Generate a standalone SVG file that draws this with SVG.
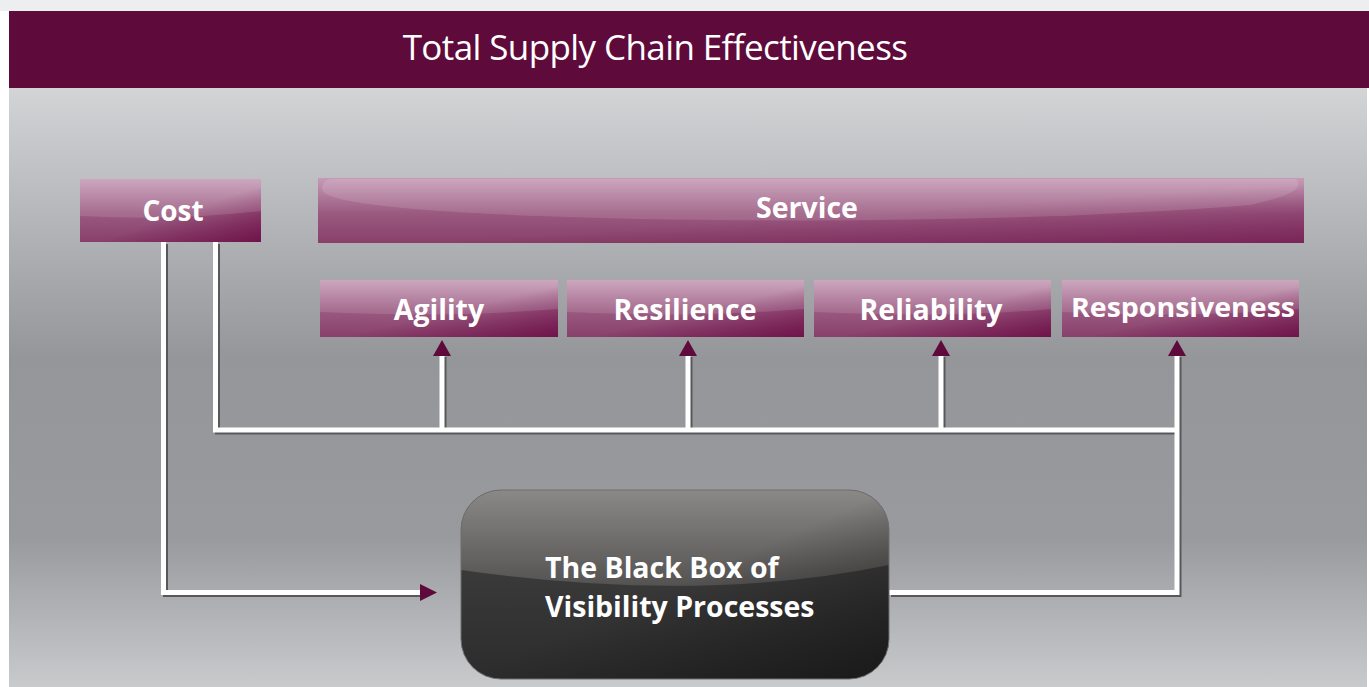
<svg xmlns="http://www.w3.org/2000/svg" width="1369" height="687" viewBox="0 0 1369 687">
<defs>
<linearGradient id="bg" x1="0" y1="0" x2="0" y2="1">
<stop offset="0" stop-color="#d3d4d6"/>
<stop offset="0.45" stop-color="#95969a"/>
<stop offset="0.75" stop-color="#999a9e"/>
<stop offset="1" stop-color="#c9cacc"/>
</linearGradient>
<linearGradient id="pk" x1="0" y1="0" x2="0" y2="1">
<stop offset="0" stop-color="#c69bb6"/>
<stop offset="0.55" stop-color="#9a5980"/>
<stop offset="1" stop-color="#88406a"/>
</linearGradient>
<linearGradient id="pkd" x1="0" y1="0" x2="1" y2="1">
<stop offset="0.55" stop-color="#6d0f48" stop-opacity="0"/>
<stop offset="1" stop-color="#6d0f48" stop-opacity="0.9"/>
</linearGradient>
<linearGradient id="bk" x1="0" y1="0" x2="0" y2="1">
<stop offset="0" stop-color="#444444"/>
<stop offset="1" stop-color="#2c2c2c"/>
</linearGradient>
<linearGradient id="bkt" x1="0" y1="0" x2="0" y2="1">
<stop offset="0" stop-color="#8b8987"/>
<stop offset="1" stop-color="#545352"/>
</linearGradient>
<linearGradient id="bkd" x1="0" y1="0" x2="1" y2="1">
<stop offset="0.5" stop-color="#151515" stop-opacity="0"/>
<stop offset="1" stop-color="#151515" stop-opacity="0.8"/>
</linearGradient>
<clipPath id="bkc"><rect x="461" y="490" width="428" height="189" rx="40"/></clipPath>
</defs>
<style>
.lbl{font-family:"Open Sans","Liberation Sans",sans-serif;font-weight:bold;fill:#fff;text-anchor:middle}
.lbs{font-family:"Open Sans","Liberation Sans",sans-serif;font-weight:bold;fill:#fff;text-anchor:start}
.ln{fill:none;stroke:#fff;stroke-width:5;stroke-linejoin:miter}
.sh{fill:none;stroke:#58585a;stroke-width:5;stroke-linejoin:miter}
.ah{fill:#5e0a3a}
.gl{fill:#fff;opacity:0.12}
</style>
<rect x="0" y="0" width="1369" height="687" fill="#ffffff"/>
<rect x="0" y="0" width="1369" height="11" fill="#eceef0"/>
<rect x="9" y="88" width="1358" height="599" fill="url(#bg)"/>
<g id="header">
<rect x="9" y="11" width="1360" height="77" fill="#5e0a3a"/>
<text x="655" y="60" font-family="Open Sans, Liberation Sans, sans-serif" font-size="35" fill="#fff" text-anchor="middle" letter-spacing="-0.6">Total Supply Chain Effectiveness</text>
</g>
<g id="connectors">
<g transform="translate(2,2)">
<path class="sh" d="M163.5 242 V592.5 H420"/>
<path class="sh" d="M215.5 242 V430 H1177"/>
<path class="sh" d="M442 430 V355 M688 430 V355 M941 430 V355"/>
<path class="sh" d="M889 592.5 H1177 V355"/>
</g>
<path class="ln" d="M163.5 242 V592.5 H420"/>
<path class="ln" d="M215.5 242 V430 H1177"/>
<path class="ln" d="M442 430 V355 M688 430 V355 M941 430 V355"/>
<path class="ln" d="M889 592.5 H1177 V355"/>
<polygon class="ah" points="442,340 433,356 451,356"/>
<polygon class="ah" points="688,340 679,356 697,356"/>
<polygon class="ah" points="941,340 932,356 950,356"/>
<polygon class="ah" points="1177,340 1168,356 1186,356"/>
<polygon class="ah" points="437,592.5 420,584 420,601"/>
</g>
<g id="cost">
<rect x="80" y="179" width="181" height="63" fill="url(#pk)"/>
<rect x="80" y="179" width="181" height="63" fill="url(#pkd)"/>
<path class="gl" d="M80 179 H261 V211 Q180 221 80 216 Z"/>
<text class="lbl" x="173" y="221" font-size="28">Cost</text>
</g>
<g id="service">
<rect x="318" y="178" width="986" height="65" fill="url(#pk)"/>
<rect x="318" y="178" width="986" height="65" fill="url(#pkd)" opacity="0.6"/>
<path class="gl" d="M330 179 H1296 Q1310 192 1250 205 Q1000 225 640 219 Q330 212 322 190 Q322 181 330 179 Z"/>
<text class="lbl" x="807" y="218" font-size="28.5">Service</text>
</g>
<g id="agility">
<rect x="320" y="280" width="238" height="57" fill="url(#pk)"/>
<rect x="320" y="280" width="238" height="57" fill="url(#pkd)"/>
<path class="gl" d="M320 280 H558 V309 Q450 318 320 312 Z"/>
<text class="lbl" x="439" y="320" font-size="28.5">Agility</text>
</g>
<g id="resilience">
<rect x="567" y="280" width="237" height="57" fill="url(#pk)"/>
<rect x="567" y="280" width="237" height="57" fill="url(#pkd)"/>
<path class="gl" d="M567 280 H804 V309 Q700 318 567 312 Z"/>
<text class="lbl" x="685" y="320" font-size="28.5">Resilience</text>
</g>
<g id="reliability">
<rect x="814" y="280" width="237" height="57" fill="url(#pk)"/>
<rect x="814" y="280" width="237" height="57" fill="url(#pkd)"/>
<path class="gl" d="M814 280 H1051 V309 Q950 318 814 312 Z"/>
<text class="lbl" x="931" y="320" font-size="28.5">Reliability</text>
</g>
<g id="responsiveness">
<rect x="1062" y="280" width="237" height="57" fill="url(#pk)"/>
<rect x="1062" y="280" width="237" height="57" fill="url(#pkd)"/>
<path class="gl" d="M1062 280 H1299 V309 Q1190 318 1062 312 Z"/>
<text class="lbl" x="1183" y="317" font-size="27" textLength="224" lengthAdjust="spacingAndGlyphs">Responsiveness</text>
</g>
<g id="blackbox">
<rect x="461" y="490" width="428" height="189" rx="40" fill="url(#bk)"/>
<g clip-path="url(#bkc)">
<path d="M461 490 H889 V565 Q700 604 461 570 Z" fill="url(#bkt)"/>
<rect x="461" y="490" width="428" height="189" fill="url(#bkd)"/>
</g>
<rect x="461" y="490" width="428" height="189" rx="40" fill="none" stroke="#6e6e6e" stroke-width="1"/>
<text class="lbs" x="545" y="578" font-size="28.5">The Black Box of</text>
<text class="lbs" x="545" y="617" font-size="28.5">Visibility Processes</text>
</g>
</svg>
